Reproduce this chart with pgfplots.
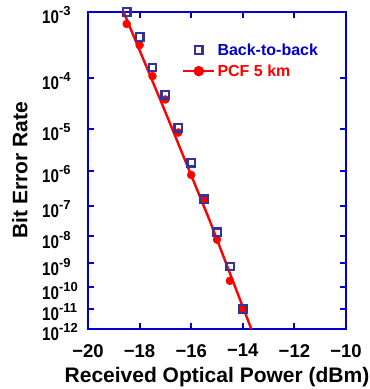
\documentclass[border=0pt]{standalone}
\usepackage{fontspec}
\setmainfont{Liberation Sans}
\usepackage{graphicx}
\usepackage{pgfplots}
\pgfplotsset{compat=1.18}
\definecolor{axblue}{RGB}{0,0,204}
\definecolor{sqblue}{RGB}{51,51,153}
\definecolor{pcfred}{RGB}{255,0,0}
\newcommand\tl[1]{\mbox{\bfseries\scalebox{0.82}[1]{\fontsize{18.5}{18.5}\selectfont 10}\raisebox{8pt}{\fontsize{13}{13}\selectfont -#1}}}
\pgfplotsset{mylegend/.style={legend image code/.code={\draw[mark repeat=2,mark phase=2,##1] plot coordinates {(0pt,0pt) (15.5pt,0pt) (31pt,0pt)};}}}
\begin{document}
\begin{tikzpicture}
\begin{axis}[
  scale only axis, width=258pt, height=317pt,
  xmin=-20, xmax=-10,
  ymin=-3.318939, ymax=-1.932644,
  y filter/.expression={-ln(-ln(y))},
  clip=false,
  font=\bfseries,
  xtick={-20,-18,-16,-14,-12,-10},
  xticklabels={\mbox{−20},\mbox{−18},\mbox{−16},\mbox{−14},\mbox{−12},\mbox{−10}},
  ytick={-1.932644,-2.220326,-2.443470,-2.625791,-2.779942,-2.913474,-3.031257,-3.136617,-3.231927,-3.318939},
  yticklabels={\tl{3},\tl{4},\tl{5},\tl{6},\tl{7},\tl{8},\tl{9},\tl{10},\tl{11},\tl{12}},
  axis line style={axblue, line width=2.5pt},
  tick style={axblue, line width=2pt},
  major tick length=6pt,
  tick align=inside,
  xticklabel style={font=\bfseries\fontsize{18.5}{18.5}\selectfont, anchor=north, inner sep=0pt, yshift=-15pt},
  yticklabel style={anchor=west, inner sep=0pt, xshift=-46pt, yshift=-3.4pt},
  xlabel={Received Optical Power (dBm)},
  ylabel={Bit Error Rate},
  xlabel style={font=\bfseries\fontsize{21}{21}\selectfont, at={(axis description cs:0.5,0)}, anchor=north, inner sep=0pt, yshift=-38pt},
  ylabel style={font=\bfseries\fontsize{21}{21}\selectfont, at={(axis description cs:-0.2946,0.5)}, anchor=north, inner sep=0pt},
  legend style={draw=none, fill=none, at={(axis description cs:0.364,0.9076)}, anchor=north west,
    inner sep=0pt, row sep=4pt, font=\bfseries\fontsize{16}{16}\selectfont,
    nodes={inner sep=2pt}},
  legend cell align=left,
]
\addlegendimage{only marks, mark=square, mark size=3.8pt, line width=2.3pt, color=sqblue, mylegend}
\addlegendentry{\textcolor{axblue}{Back-to-back}}
\addlegendimage{pcfred, line width=2.4pt, mark=*, mark size=4pt, mylegend}
\addlegendentry{\textcolor{pcfred}{PCF 5 km}}

% fitted line
\addplot[forget plot, pcfred, line width=2.4pt] coordinates {
  (-18.62,1e-3) (-17.05,2.6e-5) (-15.30,3.7e-8) (-13.67,1e-12)};
% PCF 5 km
\addplot[forget plot, only marks, mark=*, mark size=4pt, color=pcfred] coordinates {
  (-18.5,6.9e-4) (-18.0,3.4e-4) (-17.5,1.07e-4) (-17.0,4.0e-5) (-16.5,8.3e-6)
  (-16.0,7.6e-7) (-15.5,1.6e-7) (-15.0,7.6e-9) (-14.5,1.9e-10) (-14.0,1.0e-11)};
% Back-to-back
\addplot[forget plot, only marks, mark=square, mark size=3.8pt, line width=2.3pt, color=sqblue] coordinates {
  (-18.5,1e-3) (-18.0,4.5e-4) (-17.5,1.5e-4) (-17.0,4.9e-5) (-16.5,1.05e-5)
  (-16.0,1.6e-6) (-15.5,1.55e-7) (-15.0,1.38e-8) (-14.5,7.4e-10) (-14.0,1.0e-11)};
\end{axis}
\pgfresetboundingbox
\path[use as bounding box] (-88pt,-60pt) rectangle (282pt,329pt);
\end{tikzpicture}
\end{document}
